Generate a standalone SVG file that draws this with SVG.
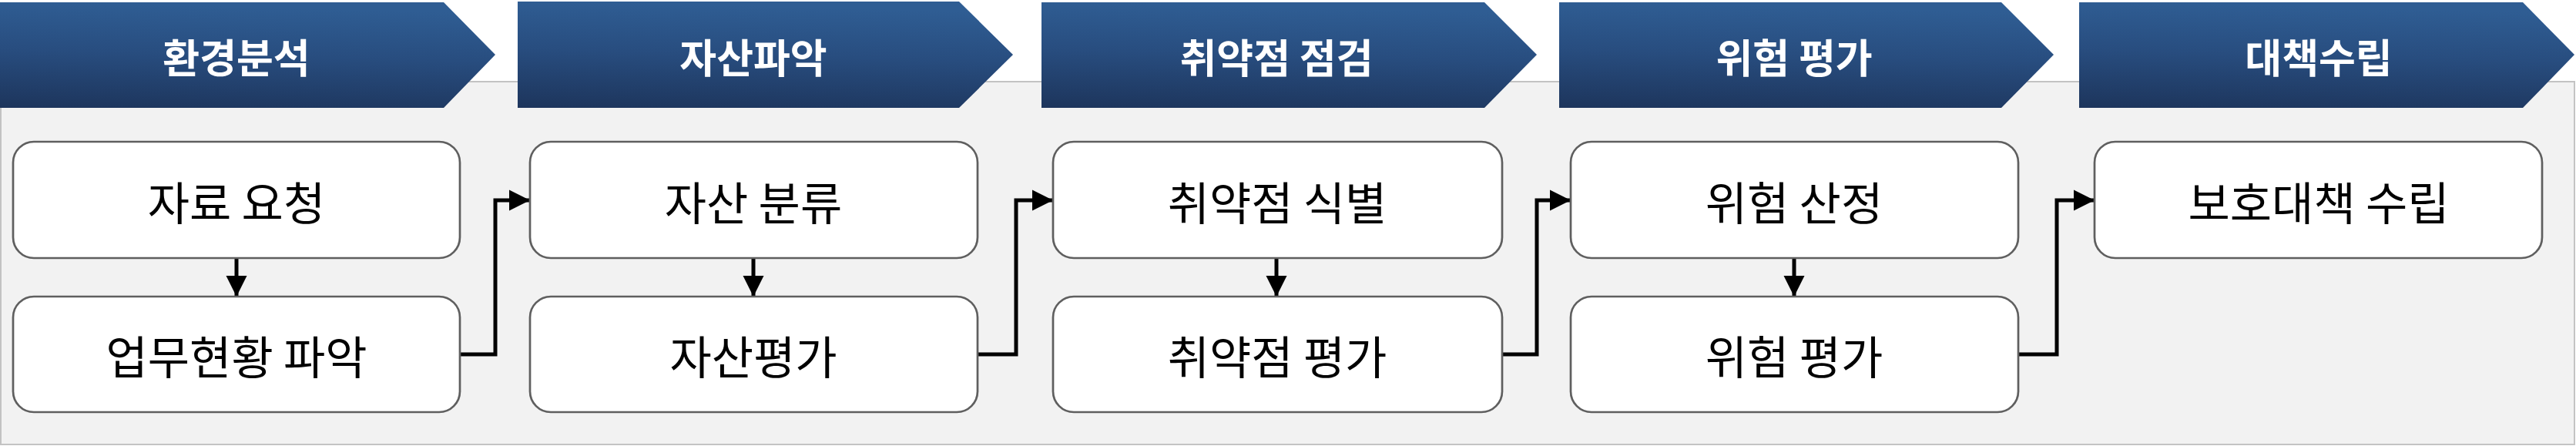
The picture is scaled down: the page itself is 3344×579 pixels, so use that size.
<svg xmlns="http://www.w3.org/2000/svg" width="3344" height="579" viewBox="0 0 3344 579">
<defs>
<linearGradient id="hdr" x1="0" y1="1" x2="0.12" y2="0">
<stop offset="0" stop-color="#1d355c"/>
<stop offset="0.55" stop-color="#284d7f"/>
<stop offset="1" stop-color="#2f5d93"/>
</linearGradient>
<marker id="arr" markerUnits="userSpaceOnUse" markerWidth="28" markerHeight="28" refX="27" refY="14" orient="auto">
<path d="M0,0.5 L27,14 L0,27.5 Z" fill="#000"/>
</marker>
<style>
.panel{fill:#f2f2f2;stroke:#c3c3c3;stroke-width:2}
.chev{fill:url(#hdr)}
.htxt{font-family:"Noto Sans CJK KR","Noto Sans CJK SC",sans-serif;font-weight:700;font-size:52px;fill:#ffffff;text-anchor:middle;dominant-baseline:central}
.box{fill:#ffffff;stroke:#5f5f5f;stroke-width:2.7}
.btxt{font-family:"Noto Sans CJK KR","Noto Sans CJK SC",sans-serif;font-size:59px;fill:#000000;text-anchor:middle;dominant-baseline:central}
.conn{fill:none;stroke:#000;stroke-width:5;marker-end:url(#arr)}
</style>
</defs>
<rect class="panel" x="1" y="106" width="3341" height="471"/>
<g id="header1"><polygon class="chev" points="0,3 576,3 643,71 576,140 0,140"/><text class="htxt" x="307" y="72">환경분석</text></g>
<g id="header2"><polygon class="chev" points="672,2 1245,2 1315,71 1245,140 672,140"/><text class="htxt" x="978" y="72">자산파악</text></g>
<g id="header3"><polygon class="chev" points="1352,3 1927,3 1995,71 1927,140 1352,140"/><text class="htxt" x="1657" y="72">취약점 점검</text></g>
<g id="header4"><polygon class="chev" points="2024,3 2598,3 2666,71 2598,140 2024,140"/><text class="htxt" x="2329" y="72">위험 평가</text></g>
<g id="header5"><polygon class="chev" points="2699,3 3275,3 3342,71 3275,140 2699,140"/><text class="htxt" x="3010" y="72">대책수립</text></g>
<g id="connectors">
<path class="conn" d="M307,335 L307,385"/>
<path class="conn" d="M978,335 L978,385"/>
<path class="conn" d="M1657,335 L1657,385"/>
<path class="conn" d="M2329,335 L2329,385"/>
<path class="conn" d="M597,460 L643,460 L643,260 L688,260"/>
<path class="conn" d="M1269,460 L1319,460 L1319,260 L1367,260"/>
<path class="conn" d="M1950,460 L1995,460 L1995,260 L2039,260"/>
<path class="conn" d="M2620,460 L2670,460 L2670,260 L2719,260"/>
</g>
<g id="n1a"><rect class="box" x="17" y="184" width="580" height="151" rx="27"/><text class="btxt" x="307" y="260">자료 요청</text></g>
<g id="n1b"><rect class="box" x="17" y="385" width="580" height="150" rx="27"/><text class="btxt" x="307" y="460">업무현황 파악</text></g>
<g id="n2a"><rect class="box" x="688" y="184" width="581" height="151" rx="27"/><text class="btxt" x="978" y="260">자산 분류</text></g>
<g id="n2b"><rect class="box" x="688" y="385" width="581" height="150" rx="27"/><text class="btxt" x="978" y="460">자산평가</text></g>
<g id="n3a"><rect class="box" x="1367" y="184" width="583" height="151" rx="27"/><text class="btxt" x="1658" y="260">취약점 식별</text></g>
<g id="n3b"><rect class="box" x="1367" y="385" width="583" height="150" rx="27"/><text class="btxt" x="1658" y="460">취약점 평가</text></g>
<g id="n4a"><rect class="box" x="2039" y="184" width="581" height="151" rx="27"/><text class="btxt" x="2329" y="260">위험 산정</text></g>
<g id="n4b"><rect class="box" x="2039" y="385" width="581" height="150" rx="27"/><text class="btxt" x="2329" y="460">위험 평가</text></g>
<g id="n5a"><rect class="box" x="2719" y="184" width="581" height="151" rx="27"/><text class="btxt" x="3010" y="260">보호대책 수립</text></g>
</svg>
